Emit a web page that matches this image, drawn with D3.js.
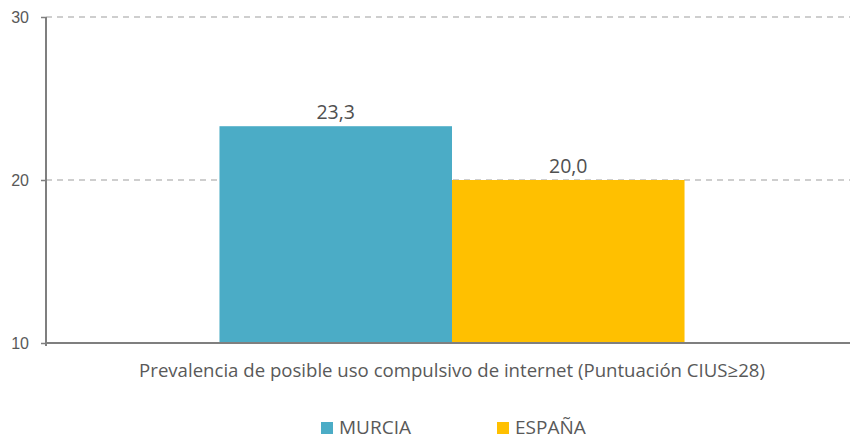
<html>
<head>
<meta charset="UTF-8">
<script src="https://d3js.org/d3.v7.min.js"></script>
<style>
  body { margin: 0; background: #fff; }
  svg { display: block; font-family: "Open Sans", sans-serif; }
  .tick text { fill: #595959; font-size: 16px; }
  .lbl { fill: #505050; font-size: 19.5px; }
  .cat { fill: #595959; font-size: 18.6px; }
  .legend { fill: #595959; font-size: 19px; }
</style>
</head>
<body>
<svg width="850" height="439"></svg>
<script>
// data
var categories = ["Prevalencia de posible uso compulsivo de internet (Puntuación CIUS≥28)"];
var series = ["MURCIA", "ESPAÑA"];
var murcia = [23.3];
var espana = [20.0];
var yTicks = [10, 20, 30];
var colors = ["#4BACC6", "#FFC000"];

var values = [murcia, espana];

var svg = d3.select("svg");
var mLeft = 46, mRight = 858, mTop = 17, mBottom = 343;

var x0 = d3.scaleBand().domain(categories).range([mLeft, mRight]).paddingOuter(0.373);
var x1 = d3.scaleBand().domain(series).range([0, x0.bandwidth()]);
var y = d3.scaleLinear().domain([10, 30]).range([mBottom, mTop]);

// dashed gridlines
svg.append("g")
  .selectAll("line")
  .data(yTicks.filter(d => d > 10))
  .enter()
  .append("line")
  .attr("x1", mLeft)
  .attr("x2", 850)
  .attr("y1", d => y(d))
  .attr("y2", d => y(d))
  .attr("stroke", "#BFBFBF")
  .attr("stroke-width", 1.5)
  .attr("stroke-dasharray", "6,5");

// bars
categories.forEach(function (c, ci) {
  series.forEach(function (s, si) {
    var v = values[si][ci];
    svg.append("rect")
      .attr("x", x0(c) + x1(s))
      .attr("y", y(v))
      .attr("width", x1.bandwidth())
      .attr("height", y(10) - y(v))
      .attr("fill", colors[si]);

    svg.append("text")
      .attr("class", "lbl")
      .attr("x", x0(c) + x1(s) + x1.bandwidth() / 2)
      .attr("y", y(v) - 7)
      .attr("text-anchor", "middle")
      .text(d3.format(".1f")(v).replace(".", ","));
  });
});

// y axis
var yAxis = d3.axisLeft(y).tickValues(yTicks).tickSize(5).tickPadding(12);
var gy = svg.append("g").attr("transform", "translate(" + mLeft + ",0)").call(yAxis);
gy.select(".domain").attr("stroke", "#7F7F7F").attr("stroke-width", 2).attr("d", "M0," + mTop + "V" + (mBottom + 3));
gy.selectAll(".tick line").attr("stroke", "#7F7F7F").attr("stroke-width", 1.5);

// x baseline
svg.append("line")
  .attr("x1", mLeft)
  .attr("x2", 850)
  .attr("y1", mBottom)
  .attr("y2", mBottom)
  .attr("stroke", "#7F7F7F")
  .attr("stroke-width", 2);

// category label
svg.selectAll(".cat")
  .data(categories)
  .enter()
  .append("text")
  .attr("class", "cat")
  .attr("x", d => x0(d) + x0.bandwidth() / 2)
  .attr("y", 377)
  .attr("text-anchor", "middle")
  .text(d => d);

// legend
var legendX = [321, 497];
series.forEach(function (s, i) {
  svg.append("rect")
    .attr("x", legendX[i])
    .attr("y", 422)
    .attr("width", 12)
    .attr("height", 12)
    .attr("fill", colors[i]);
  svg.append("text")
    .attr("class", "legend")
    .attr("x", legendX[i] + 18)
    .attr("y", 434)
    .text(s);
});
</script>
</body>
</html>
